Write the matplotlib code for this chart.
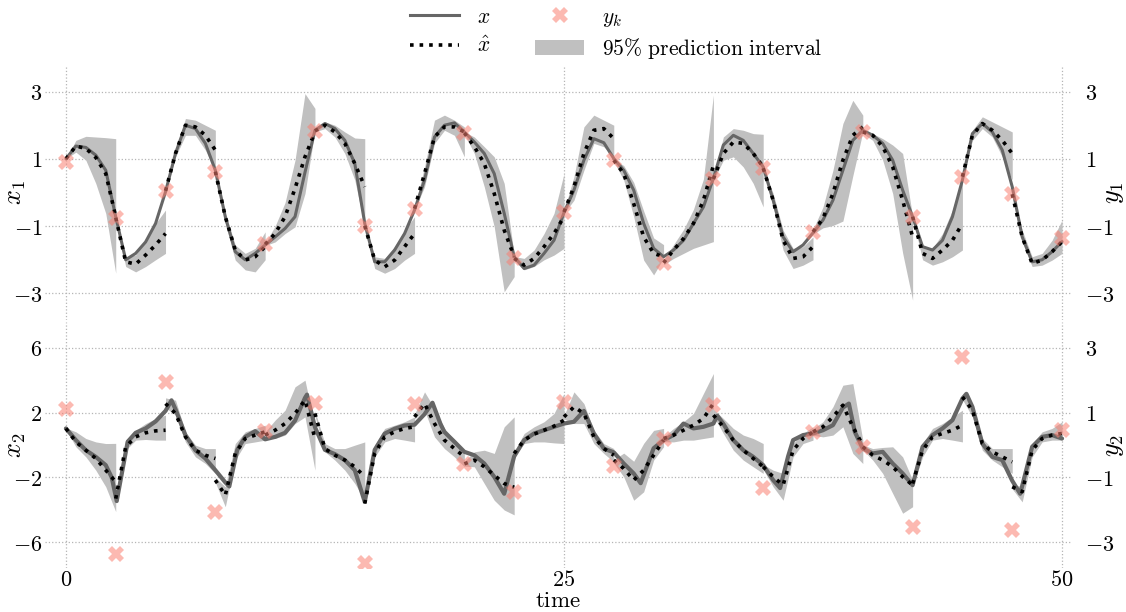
import numpy as np
import matplotlib
matplotlib.use("Agg")
import matplotlib.pyplot as plt
from matplotlib.lines import Line2D
from matplotlib.patches import Patch

plt.rcParams['mathtext.fontset'] = 'cm'
plt.rcParams['font.family'] = ['DejaVu Serif']

# ---------------- data ----------------
t_obs = [0, 2.5, 5, 7.5, 10, 12.5, 15, 17.5, 20, 22.5, 25,
         27.5, 30, 32.5, 35, 37.5, 40, 42.5, 45, 47.5, 50]
y1_obs = [0.92, -0.75, 0.05, 0.62, -1.54, 1.83, -0.99, -0.48, 1.77, -1.96, -0.58,
          0.96, -2.09, 0.40, 0.72, -1.17, 1.80, -0.72, 0.47, -0.05, -1.36]
y2_obs = [1.10, -3.36, 1.95, -2.07, 0.43, 1.29, -3.64, 1.26, -0.58, -1.44, 1.31,
          -0.64, 0.17, 1.23, -1.33, 0.39, -0.06, -2.51, 2.72, -2.61, 0.47]

# true x1 sampled every 0.5 time units
t_x1 = [i * 0.5 for i in range(101)]
x1_true = [1.00, 1.38, 1.34, 1.11, 0.66,
           -0.72, -2.00, -1.81, -1.47, -0.92,
           0.02, 1.16, 2.00, 1.90, 1.46,
           0.66, -0.72, -1.76, -2.00, -1.81,
           -1.56, -1.32, -1.07, -0.72, 0.60,
           1.85, 2.05, 1.90, 1.55, 0.86,
           -0.92, -2.06, -2.06, -1.71, -1.22,
           -0.52, 0.37, 1.65, 2.00, 2.07,
           1.80, 1.50, 1.16, 0.56, -0.62,
           -1.91, -2.26, -2.16, -1.81, -1.42,
           -0.60, 0.07, 0.96, 1.60, 1.48,
           1.01, 0.66, 0.07, -0.92, -1.66,
           -1.91, -1.71, -1.42, -0.92, -0.43,
           0.42, 1.41, 1.70, 1.55, 1.16,
           0.76, -0.23, -1.32, -1.76, -1.56,
           -1.20, -0.82, -0.23, 0.66, 1.55,
           1.85, 1.70, 1.46, 0.96, 0.07,
           -0.72, -1.61, -1.71, -1.42, -0.72,
           0.37, 1.75, 2.05, 1.80, 1.26,
           0.17, -1.32, -2.06, -2.00, -1.76,
           -1.46]

# true x2 (time, value) readings
t_x2 = [0, 0.5, 1, 1.5, 2, 2.3, 2.55, 3.1, 3.5, 4, 4.5, 5, 5.3, 5.5, 6, 6.5, 7, 7.5,
        8, 8.2, 8.6, 9, 9.5, 10, 10.5, 11, 11.5, 12, 12.1, 12.5, 13, 13.5, 14, 14.5,
        15, 15.5, 16, 16.5, 17, 17.5, 18, 18.4, 18.8, 19, 19.5, 20, 20.5, 21, 21.5,
        22, 22.5, 23, 23.5, 24, 24.5, 25, 25.5, 26, 26.5, 27, 27.5, 28, 28.5, 28.85,
        29.5, 30, 30.5, 31, 31.5, 32, 32.5, 32.7, 33, 33.5, 34, 34.5, 35, 35.5, 35.85,
        36.25, 36.5, 37, 37.5, 38, 38.5, 39, 39.3, 39.6, 40, 40.5, 41, 41.5, 42, 42.5,
        43, 43.5, 44, 44.5, 45, 45.2, 45.5, 46, 46.5, 47, 47.5, 47.9, 48.5, 49, 49.5, 50]
x2_true = [1.02, 0.30, -0.32, -0.73, -1.24, -2.00, -3.45, 0.20, 0.75, 1.02, 1.45, 2.10,
           2.75, 2.20, 0.60, -0.32, -0.83, -1.55, -2.30, -2.55, -0.30, 0.50, 0.85, 0.35,
           0.50, 0.75, 1.50, 2.90, 3.10, 1.10, -0.30, -0.56, -0.93, -1.55, -3.50, -0.30,
           0.70, 1.00, 1.20, 1.25, 1.90, 2.60, 1.30, 0.80, 0.20, -0.42, -0.63, -1.14,
           -1.96, -3.00, -0.70, 0.30, 0.71, 0.91, 1.12, 1.32, 1.43, 2.10, 0.71, -0.22,
           -0.45, -1.14, -1.75, -2.35, -0.20, 0.30, 0.61, 1.32, 1.02, 1.12, 1.32, 1.80,
           1.30, 0.30, -0.32, -0.73, -1.24, -2.16, -2.65, -0.70, 0.30, 0.61, 0.71, 0.91,
           1.22, 2.30, 2.55, 0.80, -0.22, -0.52, -0.42, -1.14, -1.75, -2.47, -0.11, 0.61,
           1.02, 1.53, 2.86, 3.15, 2.35, 0.09, -0.73, -0.93, -2.20, -3.00, -0.11, 0.50,
           0.61, 0.40]

# estimates and 95% bounds, one row per observation interval (6 points each)
x1_hat = [[1.00, 1.38, 1.31, 1.04, 0.56, -0.72],
          [-0.75, -2.06, -2.13, -1.86, -1.56, -1.22],
          [0.05, 1.16, 2.00, 1.95, 1.70, 1.26],
          [0.62, -0.72, -1.71, -2.01, -1.91, -1.61],
          [-1.54, -1.22, -0.72, 0.12, 1.06, 1.80],
          [1.83, 2.00, 1.80, 1.46, 0.86, 0.17],
          [-0.99, -2.01, -2.21, -2.01, -1.61, -1.22],
          [-0.48, 0.56, 1.65, 1.95, 1.95, 1.80],
          [1.77, 1.36, 0.86, -0.03, -1.12, -1.91],
          [-1.96, -2.16, -1.96, -1.61, -1.22, -0.72],
          [-0.58, 0.17, 1.16, 1.85, 1.90, 1.60],
          [0.96, 0.56, -0.33, -1.32, -1.81, -1.91],
          [-2.09, -1.71, -1.37, -0.92, -0.23, 0.80],
          [0.40, 1.16, 1.50, 1.46, 1.16, 0.76],
          [0.72, -0.23, -1.42, -1.96, -1.91, -1.61],
          [-1.17, -0.77, -0.03, 0.96, 1.70, 1.95],
          [1.80, 1.70, 1.36, 0.76, -0.23, -1.32],
          [-0.72, -1.81, -1.96, -1.71, -1.42, -0.92],
          [0.47, 1.70, 2.05, 1.85, 1.55, 1.16],
          [-0.05, -1.32, -2.11, -2.01, -1.76, -1.46]]
x1_hi = [[1.00, 1.55, 1.67, 1.65, 1.63, 1.60],
         [-0.70, -1.91, -1.86, -1.42, -0.92, -0.52],
         [0.10, 1.26, 2.20, 2.15, 2.00, 1.85],
         [0.66, -0.62, -1.56, -1.81, -1.66, -1.17],
         [-1.50, -1.00, -0.30, 0.96, 2.94, 2.50],
         [1.88, 2.10, 2.00, 1.80, 1.62, 1.60],
         [-0.95, -1.91, -1.96, -1.61, -1.12, -0.72],
         [-0.44, 0.76, 2.15, 2.30, 2.15, 1.95],
         [1.80, 1.65, 1.36, 1.06, 0.27, -1.85],
         [-1.90, -1.96, -1.71, -1.22, -0.62, 0.56],
         [-0.55, 0.47, 1.95, 2.30, 2.15, 2.00],
         [1.00, 0.80, 0.30, -0.55, -1.35, -1.55],
         [-2.00, -1.55, -1.10, -0.50, 0.40, 2.90],
         [0.45, 1.65, 1.90, 1.85, 1.75, 1.73],
         [0.75, -0.03, -1.12, -1.66, -1.61, -1.32],
         [-1.10, -0.43, 0.66, 2.05, 2.74, 2.30],
         [1.85, 1.75, 1.60, 1.41, 1.16, -0.72],
         [-0.70, -1.61, -1.66, -1.22, -0.52, 0.47],
         [0.52, 1.85, 2.25, 2.10, 1.95, 1.80],
         [0.00, -1.12, -1.91, -1.81, -1.42, -0.82]]
x1_lo = [[1.00, 1.20, 0.96, 0.27, -0.62, -2.40],
         [-0.80, -2.20, -2.36, -2.20, -2.00, -1.81],
         [0.00, 1.06, 1.70, 1.70, 1.26, 0.66],
         [0.58, -0.92, -2.01, -2.30, -2.36, -2.00],
         [-1.58, -1.47, -1.22, -1.02, -0.03, 1.85],
         [1.80, 1.90, 1.65, 1.16, 0.37, -1.02],
         [-1.03, -2.26, -2.40, -2.26, -2.01, -1.81],
         [-0.52, 0.17, 1.46, 1.85, 1.70, 1.06],
         [1.74, 1.16, 0.17, -1.02, -2.95, -2.50],
         [-2.02, -2.30, -2.20, -2.00, -1.86, -1.66],
         [-0.62, -0.23, 0.66, 1.46, 1.36, 1.06],
         [0.92, 0.37, -0.72, -2.01, -2.45, -1.95],
         [-2.15, -1.96, -1.81, -1.66, -1.56, -1.46],
         [0.35, 0.96, 1.06, 0.76, 0.27, -0.43],
         [0.68, -0.43, -1.71, -2.26, -2.16, -2.00],
         [-1.24, -1.05, -0.98, -0.85, 0.50, 1.80],
         [1.75, 1.55, 0.96, -0.03, -1.80, -3.20],
         [-0.75, -2.00, -2.16, -2.06, -1.91, -1.71],
         [0.42, 1.55, 1.90, 1.65, 1.06, 0.37],
         [-0.10, -1.47, -2.20, -2.16, -2.01, -1.81]]

x2_hat = [[1.02, 0.19, -0.32, -0.83, -1.55, -2.27],
          [-3.30, -0.11, 0.50, 0.75, 0.87, 0.91],
          [2.55, 1.94, 0.50, -0.32, -0.63, -0.83],
          [-2.16, -3.09, -0.52, 0.40, 0.61, 0.81],
          [0.61, 0.91, 1.32, 1.94, 2.76, 0.40],
          [1.94, -0.22, -0.63, -0.93, -1.34, -1.96],
          [-3.60, -0.52, 0.50, 0.81, 1.02, 1.12],
          [1.73, 2.55, 1.32, 0.30, -0.22, -0.73],
          [-1.16, -0.93, -1.34, -1.86, -2.37, -2.60],
          [-0.52, 0.30, 0.67, 0.91, 1.16, 1.53],
          [1.73, 2.35, 1.94, 0.50, -0.22, -0.63],
          [-0.93, -1.45, -2.16, -1.55, -0.63, 0.30],
          [0.40, 0.61, 0.91, 1.22, 1.63, 2.55],
          [1.84, 1.12, 0.30, -0.32, -0.83, -1.34],
          [-1.34, -1.96, -2.47, -0.32, 0.40, 0.81],
          [0.81, 1.12, 1.73, 2.45, 1.12, -0.01],
          [-0.11, -0.63, -0.93, -1.34, -1.96, -2.47],
          [-2.37, -0.32, 0.50, 0.71, 0.91, 1.22],
          [2.96, 2.14, 0.09, -0.42, -0.73, -1.04],
          [-2.57, -2.88, -0.32, 0.40, 0.61, 0.71]]
x2_hi = [[1.05, 0.81, 0.40, 0.19, 0.09, 0.10],
         [-3.15, 0.30, 0.91, 1.32, 1.63, 1.84],
         [2.90, 2.76, 0.81, -0.01, -0.22, -0.22],
         [-2.00, -2.57, 0.09, 0.81, 1.02, 1.22],
         [0.80, 1.53, 2.14, 3.58, 3.99, 1.12],
         [2.10, 0.09, -0.22, -0.22, -0.01, 0.19],
         [-3.40, -0.01, 1.02, 1.22, 1.43, 1.73],
         [1.90, 3.27, 2.25, 1.02, 0.30, -0.32],
         [-1.00, -0.42, -0.32, -0.52, 1.12, 1.73],
         [-0.40, 0.71, 1.12, 1.43, 1.94, 3.17],
         [1.80, 3.27, 2.55, 0.91, 0.09, -0.22],
         [-0.90, -0.50, -1.00, 0.10, 0.90, 1.02],
         [0.50, 1.02, 1.43, 1.94, 3.17, 4.40],
         [2.20, 1.63, 1.02, 0.61, 0.40, 0.09],
         [-1.20, -1.55, -1.75, 0.09, 0.71, 1.12],
         [1.00, 1.43, 2.35, 3.68, 3.78, 0.30],
         [0.00, -0.22, -0.15, -0.11, -0.73, -2.16],
         [-2.20, 0.09, 1.02, 1.32, 1.73, 2.14],
         [3.10, 2.35, 0.40, -0.22, -0.22, -0.22],
         [-2.40, -2.57, 0.09, 0.81, 1.02, 1.43]]
x2_lo = [[0.98, -0.11, -0.73, -1.55, -2.57, -4.10],
         [-3.50, -0.32, 0.30, 0.34, 0.30, 0.30],
         [2.30, 1.84, 0.19, -0.73, -1.14, -1.75],
         [-2.30, -3.80, -0.93, 0.09, 0.19, 0.30],
         [0.40, 0.40, 0.61, 1.32, 1.73, -1.55],
         [1.80, -0.42, -0.93, -1.55, -2.37, -3.40],
         [-3.60, -0.73, 0.19, 0.40, 0.30, 0.19],
         [1.60, 2.14, 0.50, -0.22, -0.73, -1.34],
         [-1.30, -1.34, -2.37, -3.40, -4.00, -4.30],
         [-0.70, 0.09, 0.19, 0.19, 0.13, 0.09],
         [1.60, 1.32, 1.32, 0.09, -0.52, -1.04],
         [-1.10, -1.96, -3.40, -2.88, -0.93, -0.11],
         [0.20, 0.19, 0.30, 0.30, 0.40, 0.50],
         [1.80, 0.71, -0.32, -0.93, -1.34, -1.75],
         [-1.50, -2.57, -3.40, -0.73, 0.09, 0.30],
         [0.60, 0.50, 0.61, 1.12, -0.52, -1.14],
         [-0.30, -0.93, -1.75, -2.98, -4.20, -3.80],
         [-2.60, -0.73, 0.30, 0.40, 0.30, 0.19],
         [2.80, 1.73, -0.32, -0.93, -1.34, -1.75],
         [-2.70, -3.50, -0.73, 0.19, 0.30, 0.30]]

# ---------------- styling ----------------
TRUE_C = '#666666'
FILL_C = '#c0c0c0'
OBS_C = 'salmon'
GRID_C = '#b5b5b5'
TICK_FS = 16
LAB_FS = 19

W, H = 1126, 612
fig = plt.figure(figsize=(W / 100, H / 100), dpi=100)
L, R = 45 / W, 1071 / W
ax1 = fig.add_axes([L, 1 - 320 / H, R - L, 255 / H])
ax2 = fig.add_axes([L, 1 - 568 / H, R - L, 246 / H], sharex=ax1)
ax1r = ax1.twinx()
ax2r = ax2.twinx()


def draw(ax, axr, t_true, true, hat, lo, hi, obs, lw_true):
    for k in range(len(hat)):
        ts = np.linspace(t_obs[k], t_obs[k + 1], len(hat[k]))
        ax.fill_between(ts, lo[k], hi[k], color=FILL_C, lw=0, zorder=1)
    ax.plot(t_true, true, color=TRUE_C, lw=lw_true, zorder=2, solid_capstyle='round')
    for k in range(len(hat)):
        ts = np.linspace(t_obs[k], t_obs[k + 1], len(hat[k]))
        ax.plot(ts, hat[k], color='black', ls=':', lw=2.6, zorder=3)
    axr.plot(t_obs, obs, ls='none', marker='X', ms=11, mew=0, color=OBS_C,
             alpha=0.55, zorder=4)


draw(ax1, ax1r, t_x1, x1_true, x1_hat, x1_lo, x1_hi, y1_obs, 2.2)
draw(ax2, ax2r, t_x2, x2_true, x2_hat, x2_lo, x2_hi, y2_obs, 3.0)

for ax, lim, ticks in [(ax1, 3.79, [-3, -1, 1, 3]), (ax2, 7.57, [-6, -2, 2, 6])]:
    ax.set_ylim(-lim, lim)
    ax.set_yticks(ticks)
    ax.set_yticklabels([r'$%d$' % v if v >= 0 else r'$-%d$' % (-v) for v in ticks],
                       fontsize=TICK_FS)
    ax.set_xlim(-1.05, 50.45)
    ax.set_xticks([0, 25, 50])
    ax.grid(True, ls=':', color=GRID_C, lw=0.9)
    ax.set_axisbelow(True)
    ax.tick_params(axis='both', length=0, pad=2)
    for s in ax.spines.values():
        s.set_visible(False)

for axr, lim in [(ax1r, 3.79), (ax2r, 3.785)]:
    axr.set_ylim(-lim, lim)
    axr.set_yticks([-3, -1, 1, 3])
    axr.set_yticklabels([r'$-3$', r'$-1$', r'$1$', r'$3$'], fontsize=TICK_FS)
    axr.tick_params(axis='y', length=0, pad=10)
    axr.grid(False)
    for s in axr.spines.values():
        s.set_visible(False)

ax1.tick_params(axis='x', labelbottom=False)
ax2.set_xticklabels([r'$0$', r'$25$', r'$50$'], fontsize=TICK_FS)
ax2.tick_params(axis='x', pad=0.5)

aw = (1071 - 45)
for ax, txt in [(ax1, r'$x_1$'), (ax2, r'$x_2$')]:
    ax.set_ylabel(txt, fontsize=LAB_FS)
    ax.yaxis.set_label_coords((28 - 45) / aw, 0.5)
for axr, txt in [(ax1r, r'$y_1$'), (ax2r, r'$y_2$')]:
    axr.set_ylabel(txt, fontsize=LAB_FS)
    axr.yaxis.set_label_coords((1101 - 45) / aw, 0.5)
ax2.set_xlabel(r'$\mathrm{time}$', fontsize=16.5)
ax2.xaxis.set_label_coords(0.5, -(590 - 568) / 246)

handles = [Line2D([], [], color=TRUE_C, lw=2.2),
           Line2D([], [], color='black', ls=':', lw=2.6),
           Line2D([], [], ls='none', marker='X', ms=11, mew=0, color=OBS_C, alpha=0.55),
           Patch(facecolor=FILL_C, edgecolor='none')]
labels = [r'$x$', r'$\hat{x}$', r'$y_k$', r'$\mathrm{95\%\ prediction\ interval}$']
fig.legend(handles, labels, loc='upper center', bbox_to_anchor=(0.547, 1.022),
           ncol=2, frameon=False, fontsize=15.5, handlelength=2.3,
           handletextpad=0.8, columnspacing=2.1, labelspacing=0.35)

fig.savefig('out.png', dpi=100)
